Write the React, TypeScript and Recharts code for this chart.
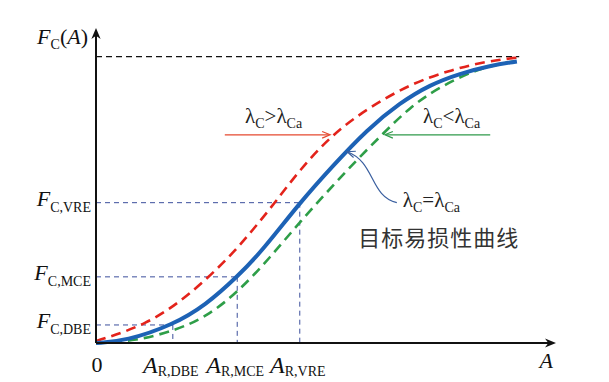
import React from "react";
import { LineChart, Line, XAxis, YAxis, ReferenceLine, ReferenceDot } from "recharts";

// Fragility curves: A = intensity (arbitrary units), F = F_C(A)
const targetCurve = [
  { A: 0, F: 0 },
  { A: 0.65, F: 0.007 },
  { A: 1.67, F: 0.063 },
  { A: 2.39, F: 0.133 },
  { A: 3.07, F: 0.231 },
  { A: 3.63, F: 0.325 },
  { A: 4.43, F: 0.49 },
  { A: 5.15, F: 0.619 },
  { A: 5.89, F: 0.745 },
  { A: 6.61, F: 0.839 },
  { A: 7.26, F: 0.902 },
  { A: 7.91, F: 0.941 },
  { A: 8.57, F: 0.969 },
  { A: 9.15, F: 0.983 },
];

// lambda_C > lambda_Ca
const upperCurve = [
  { A: 0, F: 0.007 },
  { A: 0.22, F: 0.017 },
  { A: 1.09, F: 0.066 },
  { A: 1.8, F: 0.14 },
  { A: 2.46, F: 0.231 },
  { A: 3.0, F: 0.318 },
  { A: 3.41, F: 0.395 },
  { A: 3.89, F: 0.49 },
  { A: 4.43, F: 0.605 },
  { A: 5.15, F: 0.731 },
  { A: 5.96, F: 0.825 },
  { A: 6.89, F: 0.909 },
  { A: 7.76, F: 0.955 },
  { A: 8.46, F: 0.983 },
  { A: 9.17, F: 0.997 },
];

// lambda_C < lambda_Ca
const lowerCurve = [
  { A: 0, F: 0 },
  { A: 0.87, F: 0.007 },
  { A: 1.74, F: 0.045 },
  { A: 2.39, F: 0.091 },
  { A: 3.07, F: 0.175 },
  { A: 3.8, F: 0.301 },
  { A: 4.43, F: 0.423 },
  { A: 5.52, F: 0.615 },
  { A: 6.17, F: 0.72 },
  { A: 6.83, F: 0.825 },
  { A: 7.48, F: 0.895 },
  { A: 8.35, F: 0.962 },
  { A: 9.07, F: 0.983 },
];

// hazard levels and where they hit the target curve
const levelNames = ["DBE", "MCE", "VRE"];
const levelA = [1.67, 3.07, 4.43];
const levelF = [0.063, 0.231, 0.49];

const SERIF = '"Liberation Serif", "Times New Roman", serif';
const LEVEL_COLOR = "#3c4f9c";

function head(tx: number, ty: number, ang: number, size: number, color: string, filled: boolean) {
  const dx = Math.cos(ang);
  const dy = Math.sin(ang);
  const bx = tx - dx * size;
  const by = ty - dy * size;
  const w = size * 0.42;
  const p1 = `${bx - dy * w},${by + dx * w}`;
  const p2 = `${bx + dy * w},${by - dx * w}`;
  if (filled) {
    const n = `${tx - dx * size * 0.7},${ty - dy * size * 0.7}`;
    return <polygon points={`${tx},${ty} ${p1} ${n} ${p2}`} fill={color} />;
  }
  return <polyline points={`${p1} ${tx},${ty} ${p2}`} fill="none" stroke={color} strokeWidth={1.2} />;
}

// straight arrow drawn on a reference segment
const arrow = (color: string, width: number, size: number, filled: boolean, label?: (x: number, y: number) => React.ReactNode) =>
  (p: any) => {
    const { x1, y1, x2, y2 } = p;
    const ang = Math.atan2(y2 - y1, x2 - x1);
    return (
      <g>
        <line x1={x1} y1={y1} x2={x2 - Math.cos(ang) * (filled ? size * 0.6 : 1)} y2={y2 - Math.sin(ang) * (filled ? size * 0.6 : 1)} stroke={color} strokeWidth={width} />
        {head(x2, y2, ang, size, color, filled)}
        {label && label(x2, y2)}
      </g>
    );
  };

// curved pointer from the label to the target curve
const curvedPointer = (p: any) => {
  const { x1, y1, x2, y2 } = p;
  const c1x = x1 - 27, c1y = y1 - 6;
  const c2x = x2 + 28, c2y = y2 + 10;
  const ang = Math.atan2(y2 - c2y, x2 - c2x);
  return (
    <g>
      <path d={`M${x1},${y1} C${c1x},${c1y} ${c2x},${c2y} ${x2},${y2}`} fill="none" stroke="#3a5f9f" strokeWidth={1.2} />
      {head(x2, y2, ang, 8, "#3a5f9f", false)}
    </g>
  );
};

const lambdaLabel = (op: string) => (p: any) => (
  <text x={p.cx} y={p.cy} fontFamily={SERIF} fontSize={21} fill="#222">
    <tspan>λ</tspan>
    <tspan fontSize={14} dy={5}>C</tspan>
    <tspan dy={-5}>{op}</tspan>
    <tspan>λ</tspan>
    <tspan fontSize={14} dy={5}>Ca</tspan>
  </text>
);

const curveName = (p: any) => (
  <text x={p.cx} y={p.cy} fontFamily='"Noto Sans CJK SC", sans-serif' fontSize={22} letterSpacing={1} fill="#333">
    目标易损性曲线
  </text>
);

const XTick = (props: any) => {
  const { x, y, payload, index } = props;
  if (payload.value === 0) {
    return (
      <text x={x + 1} y={y + 21} textAnchor="middle" fontFamily={SERIF} fontSize={22} fill="#111">0</text>
    );
  }
  return (
    <text x={x - 2} y={y + 22} textAnchor="middle" fontFamily={SERIF} fill="#111">
      <tspan fontStyle="italic" fontSize={24}>A</tspan>
      <tspan fontSize={14} dy={3}>R,{levelNames[index - 1]}</tspan>
    </text>
  );
};

const YTick = (props: any) => {
  const { x, y, index } = props;
  return (
    <text x={x + 3} y={y + 3} textAnchor="end" fontFamily={SERIF} fill="#111">
      <tspan fontStyle="italic" fontSize={22}>F</tspan>
      <tspan fontSize={14} dy={6}>C,{levelNames[index]}</tspan>
    </text>
  );
};

const yAxisLabel = (x: number, y: number) => (
  <text x={x - 8} y={y + 16} textAnchor="end" fontFamily={SERIF} fontSize={22} fill="#111">
    <tspan fontStyle="italic">F</tspan>
    <tspan fontSize={14} dy={5}>C</tspan>
    <tspan dy={-5}>(</tspan>
    <tspan fontStyle="italic">A</tspan>
    <tspan>)</tspan>
  </text>
);

const xAxisLabel = (x: number, y: number) => (
  <text x={x - 3} y={y + 25} textAnchor="end" fontFamily={SERIF} fontSize={22} fontStyle="italic" fill="#111">A</text>
);

export default function App() {
  return (
    <div style={{ position: "absolute", left: 0, top: 0, background: "#fff" }}>
      <LineChart width={609} height={382} margin={{ top: 28, right: 53, bottom: 0, left: 0 }}>
        <XAxis
          type="number"
          dataKey="A"
          domain={[0, 10]}
          ticks={[0, ...levelA]}
          tick={<XTick />}
          axisLine={false}
          tickLine={false}
          height={39}
          interval={0}
        />
        <YAxis
          type="number"
          domain={[0, 1.1]}
          ticks={levelF}
          tick={<YTick />}
          axisLine={false}
          tickLine={false}
          width={96}
          interval={0}
        />

        {/* saturation level */}
        <ReferenceLine segment={[{ x: 0, y: 1 }, { x: 9.2, y: 1 }]} stroke="#111" strokeWidth={1.4} strokeDasharray="6 4" />

        {/* hazard level guides */}
        {levelA.map((a, i) => (
          <ReferenceLine key={"h" + i} segment={[{ x: 0, y: levelF[i] }, { x: a, y: levelF[i] }]} stroke={LEVEL_COLOR} strokeWidth={1} strokeDasharray="5 4" />
        ))}
        {levelA.map((a, i) => (
          <ReferenceLine key={"v" + i} segment={[{ x: a, y: levelF[i] }, { x: a, y: 0 }]} stroke={LEVEL_COLOR} strokeWidth={1} strokeDasharray="5 4" />
        ))}

        <Line data={upperCurve} dataKey="F" type="basis" stroke="#e3231b" strokeWidth={2.6} strokeDasharray="10 6" dot={false} isAnimationActive={false} />
        <Line data={lowerCurve} dataKey="F" type="basis" stroke="#2e9e48" strokeWidth={2.6} strokeDasharray="10 6" dot={false} isAnimationActive={false} />
        <Line data={targetCurve} dataKey="F" type="basis" stroke="#1d62b5" strokeWidth={4} dot={false} isAnimationActive={false} />

        {/* axes with arrow heads */}
        <ReferenceLine segment={[{ x: 0, y: 0 }, { x: 0, y: 1.1 }]} shape={arrow("#111", 2, 11, true, yAxisLabel)} />
        <ReferenceLine segment={[{ x: 0, y: 0 }, { x: 10, y: 0 }]} shape={arrow("#111", 2, 11, true, xAxisLabel)} />

        {/* annotations */}
        <ReferenceLine segment={[{ x: 2.8, y: 0.727 }, { x: 5.09, y: 0.727 }]} shape={arrow("#e5482f", 1.2, 8, false)} />
        <ReferenceLine segment={[{ x: 8.57, y: 0.727 }, { x: 6.28, y: 0.727 }]} shape={arrow("#2f9a4a", 1.2, 8, false)} />
        <ReferenceLine segment={[{ x: 6.54, y: 0.49 }, { x: 5.46, y: 0.668 }]} shape={curvedPointer} />
        <ReferenceDot x={3.24} y={0.769} r={0} shape={lambdaLabel(">")} />
        <ReferenceDot x={7.11} y={0.769} r={0} shape={lambdaLabel("<")} />
        <ReferenceDot x={6.67} y={0.476} r={0} shape={lambdaLabel("=")} />
        <ReferenceDot x={5.7} y={0.339} r={0} shape={curveName} />
      </LineChart>
    </div>
  );
}
